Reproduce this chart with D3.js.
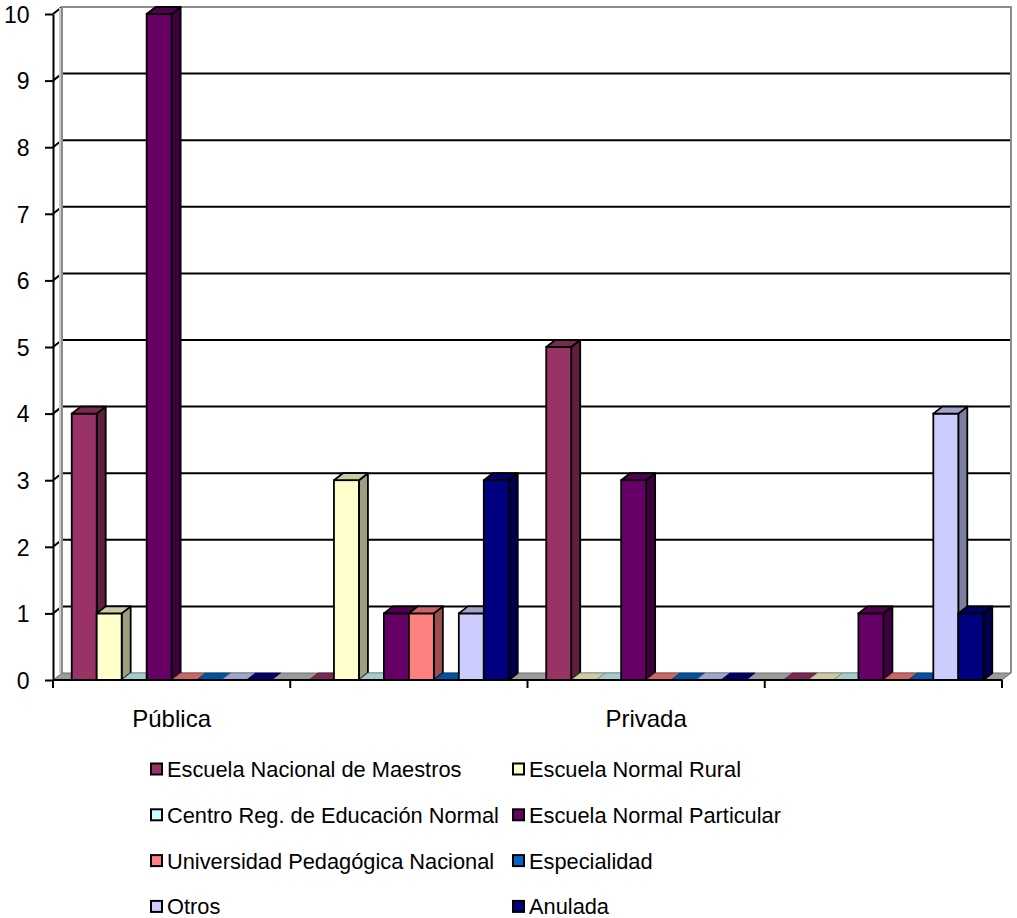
<!DOCTYPE html>
<html>
<head>
<meta charset="utf-8">
<script src="https://cdn.jsdelivr.net/npm/d3@7"></script>
<style>
  body { margin: 0; background: #fff; }
  text { font-family: "Liberation Sans", Arial, sans-serif; fill: #000; }
</style>
</head>
<body>
<svg id="chart" width="1017" height="918"></svg>
<script>
// Category slots along the x axis (only every other slot carries a label)
const categories = ["Pública", "", "Privada", ""];

const seriesNames = [
  "Escuela Nacional de Maestros",
  "Escuela Normal Rural",
  "Centro Reg. de Educación Normal",
  "Escuela Normal Particular",
  "Universidad Pedagógica Nacional",
  "Especialidad",
  "Otros",
  "Anulada"
];
const seriesColors = ["#993366", "#FFFFCC", "#CCFFFF", "#660066", "#FF8080", "#0066CC", "#CCCCFF", "#000080"];

// Counts per series, one value per category slot
const escuelaNacional       = [4, 0, 5, 0];
const escuelaRural          = [1, 3, 0, 0];
const centroRegional        = [0, 0, 0, 0];
const escuelaParticular     = [10, 1, 3, 1];
const universidadPedagogica = [0, 1, 0, 0];
const especialidad          = [0, 0, 0, 0];
const otros                 = [0, 1, 0, 4];
const anulada               = [0, 3, 0, 1];

const yTicks = [0, 1, 2, 3, 4, 5, 6, 7, 8, 9, 10];

const seriesValues = [escuelaNacional, escuelaRural, centroRegional, escuelaParticular,
                      universidadPedagogica, especialidad, otros, anulada];

const svg = d3.select("#chart");

// Front plane of the plot and the depth offset of the 3D box
const plotLeft = 53, plotRight = 1002, plotBottom = 680, plotTop = 14;
const dx = 9, dy = -7;

const x0 = d3.scaleBand().domain(d3.range(categories.length)).range([plotLeft, plotRight]).paddingInner(0).paddingOuter(0);
const x1 = d3.scaleBand().domain(d3.range(seriesNames.length)).range([0, x0.bandwidth()]).paddingInner(0).paddingOuter(0.75);
const y = d3.scaleLinear().domain([0, 10]).range([plotBottom, plotTop]);

const shade = (c, k) => { const r = d3.rgb(c); return d3.rgb(r.r * k, r.g * k, r.b * k).formatHex(); };
const poly = pts => pts.map(p => p.join(",")).join(" ");

// Side wall (left)
svg.append("polygon")
  .attr("points", poly([[plotLeft, y(10)], [plotLeft + dx, y(10) + dy], [plotLeft + dx, plotBottom + dy], [plotLeft, plotBottom]]))
  .attr("fill", "#fff");

// Back wall
svg.append("rect")
  .attr("x", plotLeft + dx).attr("y", y(10) + dy)
  .attr("width", plotRight - plotLeft).attr("height", plotBottom - y(10))
  .attr("fill", "#fff");

// Gridlines across side wall and back wall
const grid = svg.append("g");
yTicks.filter(v => v > 0).forEach(v => {
  grid.append("path")
    .attr("d", `M${plotLeft},${y(v)}L${plotLeft + dx},${y(v) + dy}L${plotRight + dx},${y(v) + dy}`)
    .attr("fill", "none").attr("stroke", "#000").attr("stroke-width", 2);
});

// Back wall border
svg.append("line").attr("x1", plotLeft + dx - 2).attr("x2", plotLeft + dx - 2)
  .attr("y1", y(10) + dy + 1).attr("y2", plotBottom + dy)
  .attr("stroke", "#c8c8c8").attr("stroke-width", 2);
svg.append("path")
  .attr("d", `M${plotLeft + dx},${plotBottom + dy}L${plotLeft + dx},${y(10) + dy}L${plotRight + dx},${y(10) + dy}L${plotRight + dx},${plotBottom + dy}`)
  .attr("fill", "none").attr("stroke", "#8c8c8c").attr("stroke-width", 2);

// Floor
svg.append("polygon")
  .attr("points", poly([[plotLeft, plotBottom], [plotRight, plotBottom], [plotRight + dx, plotBottom + dy], [plotLeft + dx, plotBottom + dy]]))
  .attr("fill", "#9a9a9a").attr("stroke", "#6e6e6e").attr("stroke-width", 1);

// Bars, drawn left to right so nearer faces overlap correctly
const bars = svg.append("g");
categories.forEach((cat, i) => {
  seriesValues.forEach((vals, s) => {
    const v = vals[i];
    const c = seriesColors[s];
    const x = x0(i) + x1(s);
    const w = x1.bandwidth();
    const yt = y(v), yb = y(0);
    const g = bars.append("g");
    if (v > 0) {
      g.append("polygon")
        .attr("points", poly([[x + w, yt], [x + w + dx, yt + dy], [x + w + dx, yb + dy], [x + w, yb]]))
        .attr("fill", shade(c, 0.62)).attr("stroke", "#000").attr("stroke-width", 1.8).attr("stroke-linejoin", "round");
      g.append("rect")
        .attr("x", x).attr("y", yt).attr("width", w).attr("height", yb - yt)
        .attr("fill", c).attr("stroke", "#000").attr("stroke-width", 1.8);
      g.append("polygon")
        .attr("points", poly([[x, yt], [x + w, yt], [x + w + dx, yt + dy], [x + dx, yt + dy]]))
        .attr("fill", shade(c, 0.8)).attr("stroke", "#000").attr("stroke-width", 1.8).attr("stroke-linejoin", "round");
    } else {
      g.append("polygon")
        .attr("points", poly([[x, yb], [x + w, yb], [x + w + dx, yb + dy], [x + dx, yb + dy]]))
        .attr("fill", shade(c, 0.8)).attr("stroke", shade(c, 0.55)).attr("stroke-width", 0.8);
    }
  });
});

// Value axis on the front plane
const yAxis = svg.append("g")
  .attr("transform", `translate(${plotLeft},0)`)
  .call(d3.axisLeft(y).tickValues(yTicks).tickSize(8).tickSizeOuter(0).tickPadding(15.5).tickFormat(d3.format("d")));
yAxis.select(".domain").attr("stroke", "#000").attr("stroke-width", 2);
yAxis.selectAll(".tick line").attr("stroke", "#000").attr("stroke-width", 2);
yAxis.selectAll(".tick text").attr("font-size", 23).attr("dy", "0.36em")
  .style("font-family", "'Liberation Sans', Arial, sans-serif");

// Category axis along the front of the floor
const xa = svg.append("g");
xa.append("line").attr("x1", plotLeft).attr("x2", plotRight).attr("y1", plotBottom).attr("y2", plotBottom)
  .attr("stroke", "#000").attr("stroke-width", 2);
d3.range(categories.length + 1).forEach(i => {
  const xx = i < categories.length ? x0(i) : plotRight;
  xa.append("line").attr("x1", xx).attr("x2", xx).attr("y1", plotBottom).attr("y2", plotBottom + 8)
    .attr("stroke", "#000").attr("stroke-width", 2);
});
categories.forEach((cat, i) => {
  if (!cat) return;
  xa.append("text")
    .attr("x", x0(i) + x0.bandwidth() / 2).attr("y", 727)
    .attr("text-anchor", "middle").attr("font-size", 24)
    .text(cat);
});

// Legend: two columns, filled row by row
const legend = svg.append("g");
const colX = [150, 512];
const rowY0 = 769, rowStep = 45.8;
seriesNames.forEach((name, s) => {
  const cx = colX[s % 2];
  const cy = rowY0 + Math.floor(s / 2) * rowStep;
  legend.append("rect")
    .attr("x", cx + 1).attr("y", cy - 5.5).attr("width", 11).attr("height", 11)
    .attr("fill", seriesColors[s]).attr("stroke", "#000").attr("stroke-width", 2);
  legend.append("text")
    .attr("x", cx + 17).attr("y", cy + 8)
    .attr("font-size", 21.8)
    .text(name);
});
</script>
</body>
</html>
